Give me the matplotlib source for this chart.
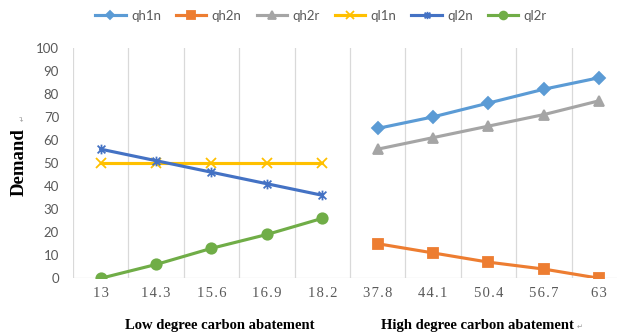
import numpy as np
import matplotlib
matplotlib.use('Agg')
import matplotlib.pyplot as plt
from matplotlib.path import Path

# 横轴类别（低/高减排程度两组）
categories = ['13', '14.3', '15.6', '16.9', '18.2', '37.8', '44.1', '50.4', '56.7', '63']
group_labels = ['Low degree carbon abatement', 'High degree carbon abatement']

# 低减排组的需求
ql1n = [50, 50, 50, 50, 50]
ql2n = [56, 51, 46, 41, 36]
ql2r = [0, 6, 13, 19, 26]

# 高减排组的需求
qh1n = [65, 70, 76, 82, 87]
qh2n = [15, 11, 7, 4, 0]
qh2r = [56, 61, 66, 71, 77]

# Excel 风格的星形标记：X 加竖线
star = Path([(0, -1), (0, 1), (-0.8, -0.8), (0.8, 0.8), (-0.8, 0.8), (0.8, -0.8)],
            [Path.MOVETO, Path.LINETO, Path.MOVETO, Path.LINETO, Path.MOVETO, Path.LINETO])

W, H = 617, 335
fig = plt.figure(figsize=(W / 100, H / 100), dpi=100)
ax = fig.add_axes([73 / W, 1 - 278.3 / H, (W - 73) / W, (278.3 - 47.7) / H])

x_low = np.arange(5)
x_high = np.arange(5, 10)
lw = 2.25

series = [
    ('qh1n', x_high, qh1n, '#5B9BD5', 'D', 6),
    ('qh2n', x_high, qh2n, '#ED7D31', 's', 7),
    ('qh2r', x_high, qh2r, '#A5A5A5', '^', 7.5),
    ('ql1n', x_low, ql1n, '#FFC000', 'x', 7),
    ('ql2n', x_low, ql2n, '#4472C4', star, 7),
    ('ql2r', x_low, ql2r, '#70AD47', 'o', 7.5),
]
for name, xs, ys, c, m, ms in series:
    ax.plot(xs, ys, color=c, lw=lw, marker=m, markersize=ms,
            markeredgecolor=c, markerfacecolor=c, markeredgewidth=1.3,
            label=name, zorder=3)

ax.set_xlim(-0.5, -0.5 + (W - 73) / 55.4)
ax.set_ylim(0, 100)
ax.set_yticks(range(0, 101, 10))
ax.set_xticks(range(len(categories)))
# 宋体风格的字距稍宽
ax.set_xticklabels(['\u200a'.join(c) for c in categories],
                   family='Liberation Serif', fontsize=10.5, color='#595959')
for lab in ax.get_yticklabels():
    lab.set_family('Lato')
    lab.set_fontsize(9.5)
    lab.set_color('#595959')
ax.tick_params(axis='both', length=0)
ax.tick_params(axis='x', pad=6)
ax.tick_params(axis='y', pad=10)

# 类别分隔的竖直网格线
for b in np.arange(-0.5, 9.6, 1):
    ax.axvline(b, color='#D9D9D9', lw=0.9, zorder=1)
ax.axhline(0, color='#D9D9D9', lw=0.9, zorder=1)
for s in ax.spines.values():
    s.set_visible(False)

leg = fig.legend(loc='center', bbox_to_anchor=(321 / W, 1 - 16 / H), ncol=6,
                 frameon=False, handlelength=2.3, handletextpad=0.4,
                 columnspacing=1.15, markerscale=0.75,
                 prop={'family': 'Lato', 'size': 9.5})
for t in leg.get_texts():
    t.set_color('#595959')

fig.text(19.5 / W, 1 - 162 / H, 'Demand', rotation=90, ha='center', va='center',
         family='Liberation Serif', fontweight='bold', fontsize=13.5)
fig.text(22 / W, 1 - 118 / H, '↵', rotation=90, ha='center', va='center',
         fontsize=5, color='#999999')
fig.text(220 / W, 1 - 325 / H, group_labels[0], ha='center', va='center',
         family='Liberation Serif', fontweight='bold', fontsize=10.5)
fig.text(477 / W, 1 - 325 / H, group_labels[1], ha='center', va='center',
         family='Liberation Serif', fontweight='bold', fontsize=10.5)
fig.text(580 / W, 1 - 327 / H, '↵', ha='center', va='center',
         fontsize=5, color='#999999')

fig.savefig('out.png', dpi=100)
